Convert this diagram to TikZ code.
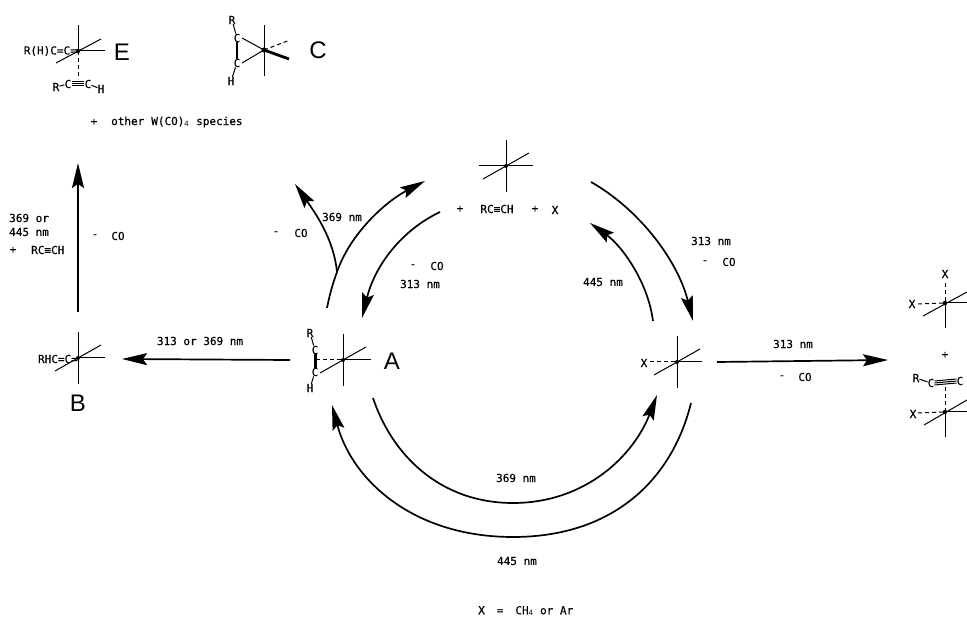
\documentclass[tikz,border=0pt]{standalone}
\usepackage{fontspec}
\setmainfont{Liberation Sans}
\newfontfamily\typed[FakeBold=0.4]{DejaVu Sans Mono}
\usetikzlibrary{arrows.meta}
\tikzset{
  x=1pt,y=-1pt,
  txt/.style={inner sep=0pt,font=\typed\fontsize{11}{12}\selectfont,text=black},
  bigl/.style={inner sep=0pt,font=\fontsize{24}{26}\selectfont},
  arcarrow/.style={line width=1.7pt,-{Stealth[length=25pt,width=12pt,inset=4pt]}},
  plainline/.style={line width=1.7pt},
  bond/.style={line width=1pt},
  dashbond/.style={line width=1pt,dash pattern=on 4pt off 3pt},
  heavy/.style={line width=2.8pt}
}
\newcommand{\mstar}[2]{% name, centre
  \coordinate (#1) at (#2);
  \fill (#1) circle (2pt);
  \draw[bond] ([yshift=26pt]#1) -- ([yshift=-26pt]#1);
  \draw[bond] ([xshift=-23pt,yshift=-13pt]#1) -- ([xshift=23pt,yshift=13pt]#1);
}
\newcommand{\lbl}[3]{\node[txt] (#1) at (#2) {#3};}
\begin{document}
\begin{tikzpicture}
\useasboundingbox (0,0) rectangle (967,617);
\clip (0,0) rectangle (967,617);

% metal centres
\mstar{mT}{506,166}
\draw[bond] (479,166) -- (533,166);
\mstar{mA}{343,360}
\draw[bond] (mA) -- (371,360);
\draw[dashbond] (316,360) -- (mA);
\mstar{mX}{677,362}
\draw[bond] (mX) -- (702,362);
\draw[dashbond] (650,362) -- (mX);
\mstar{mB}{78,358}
\draw[bond] (mB) -- (105,358);
% E
\coordinate (mE) at (78,51);
\fill (mE) circle (2.2pt);
\draw[bond] (78,25) -- (mE) -- (105,51);
\draw[bond] (56,63) -- (101,39);
\draw[dashbond] (mE) -- (78,79);
% C
\coordinate (mC) at (264,50);
\fill (mC) circle (2.6pt);
\draw[bond] (264,25) -- (264,76);
\draw[bond] (242,38) -- (mC) -- (242,63);
\draw[dashbond] (mC) -- (290,40);
\draw[heavy] (mC) -- (289,59);
% right-hand products
\coordinate (mU) at (945,303);
\fill (mU) circle (2.2pt);
\draw[bond] (mU) -- (945,328);
\draw[dashbond] (945,283) -- (mU);
\draw[dashbond] (918,304) -- (mU);
\draw[bond] (mU) -- (967,303);
\draw[bond] (923,316) -- (967,292);
\coordinate (mL) at (945,412);
\fill (mL) circle (2.2pt);
\draw[bond] (mL) -- (945,437);
\draw[dashbond] (945,387) -- (mL);
\draw[dashbond] (918,413) -- (mL);
\draw[bond] (mL) -- (967,412);
\draw[bond] (924,425) -- (967,400);

% ligands A
\lbl{aR}{310,333}{R}
\lbl{aC}{315,350}{C}
\lbl{aCb}{315,372}{C}
\lbl{aH}{310,388}{H}
\draw[line width=3pt] (aC) -- (aCb);
\draw[bond] (aR) -- (aC) (aCb) -- (aH);
% ligands C
\lbl{cR}{232,20}{R}
\lbl{cC}{237,38}{C}
\lbl{cCb}{237,63}{C}
\lbl{cH}{231,81}{H}
\draw[line width=2pt] (cC) -- (cCb);
\draw[bond] (cR) -- (cC) (cCb) -- (cH);
% E ligand
\lbl{eR}{56,87}{R}
\lbl{eC}{68,84}{C}
\lbl{eCb}{88,84}{C}
\lbl{eH}{101,89}{H}
\draw[bond] (eR) -- (eC) (eCb) -- (eH);
\draw[bond] (eC.east) -- (eCb.west) ([yshift=-2pt]eC.east) -- ([yshift=-2pt]eCb.west) ([yshift=2pt]eC.east) -- ([yshift=2pt]eCb.west);
% right ligand
\lbl{rR}{916,378}{R}
\lbl{rC}{931,383}{C}
\lbl{rCb}{960,381}{C}
\draw[bond] (rR) -- (rC);
\draw[bond] (rC.east) -- (rCb.west) ([yshift=-2pt]rC.east) -- ([yshift=-2pt]rCb.west) ([yshift=2pt]rC.east) -- ([yshift=2pt]rCb.west);

% letters
\node[bigl] (la) at (392,361) {A};
\node[bigl] (lb) at (78,403) {B};
\node[bigl] (lc) at (318,50) {C};
\node[bigl] (le) at (122,52) {E};

% text
\node[txt,anchor=east] (tE) at (77,51) {R(H)C=C=};
\node[txt,anchor=east] (tB) at (78,359) {RHC=C=};
\lbl{pa}{94,122}{+}
\node[txt,anchor=west] (ot) at (111,122) {other\hspace{7pt}W(CO)$_{\mathrm{4}}$\hspace{7pt}species};
\node[txt,anchor=west] (s1) at (9,218) {369 or};
\node[txt,anchor=west] (s2) at (9,232) {445 nm};
\lbl{pb}{13,250}{+}
\node[txt,anchor=west] (s3) at (31,250) {RC≡CH};
\lbl{d1}{95,236}{-}
\lbl{c1}{118,236}{CO}
\lbl{d2}{276,233}{-}
\lbl{c2}{301,233}{CO}
\lbl{n1}{342,217}{369 nm}
\lbl{pc}{460,209}{+}
\lbl{tr}{497,209}{RC≡CH}
\lbl{pd}{535,209}{+}
\lbl{xt}{555,210}{X}
\lbl{d3}{413,266}{-}
\lbl{c3}{437,266}{CO}
\lbl{n2}{420,284}{313 nm}
\lbl{n3}{603,282}{445 nm}
\lbl{n4}{711,241}{313 nm}
\lbl{d4}{705,262}{-}
\lbl{c4}{729,262}{CO}
\lbl{n5}{793,344}{313 nm}
\lbl{d5}{782,377}{-}
\lbl{c5}{805,377}{CO}
\lbl{n6}{200,341}{313 or 369 nm}
\lbl{n7}{516,478}{369 nm}
\lbl{n8}{517,561}{445 nm}
\lbl{xa}{644,363}{X}
\lbl{xb}{912,304}{X}
\lbl{xc}{945,274}{X}
\lbl{xd}{913,414}{X}
\lbl{pe}{945,355}{+}
\node[txt,anchor=west] (key) at (478,611) {X\hspace{12pt}=\hspace{12pt}CH$_{\mathrm{4}}$ or Ar};

% connectors
\coordinate (a0) at (327,308);
\coordinate (a1) at (337,272);
\coordinate (a2) at (425,181);
\coordinate (a3) at (295,184);
\draw[plainline] (a0) .. controls (330,293) and (333,283) .. (a1);
\draw[arcarrow] (a1) .. controls (350,234) and (385,202) .. (a2);
\draw[arcarrow] (a1) .. controls (334,240) and (316,214) .. (a3);
\coordinate (b0) at (440,212);
\coordinate (b1) at (362,318);
\draw[arcarrow] (b0) .. controls (402,230) and (375,265) .. (b1);
\coordinate (c0) at (591,182);
\coordinate (c1) at (693,321);
\draw[arcarrow] (c0) .. controls (637,208) and (677,258) .. (c1);
\coordinate (d0) at (653,321);
\coordinate (d1) at (590,223);
\draw[arcarrow] (d0) .. controls (648,282) and (622,246) .. (d1);
\coordinate (e0) at (373,398);
\coordinate (e1) at (657,395);
\draw[arcarrow] (e0) .. controls (392,455) and (440,503) .. (513,503) .. controls (586,503) and (634,455) .. (e1);
\coordinate (f0) at (691,403);
\coordinate (f1) at (332,405);
\draw[arcarrow] (f0) .. controls (672,480) and (613,537) .. (513,537) .. controls (413,537) and (352,480) .. (f1);
\coordinate (g0) at (78,312);
\coordinate (g1) at (78,163);
\draw[arcarrow] (g0) -- (g1);
\coordinate (h0) at (290,360);
\coordinate (h1) at (122,359);
\draw[arcarrow] (h0) -- (h1);
\coordinate (i0) at (717,362);
\coordinate (i1) at (888,360);
\draw[arcarrow] (i0) -- (i1);
\end{tikzpicture}
\end{document}
